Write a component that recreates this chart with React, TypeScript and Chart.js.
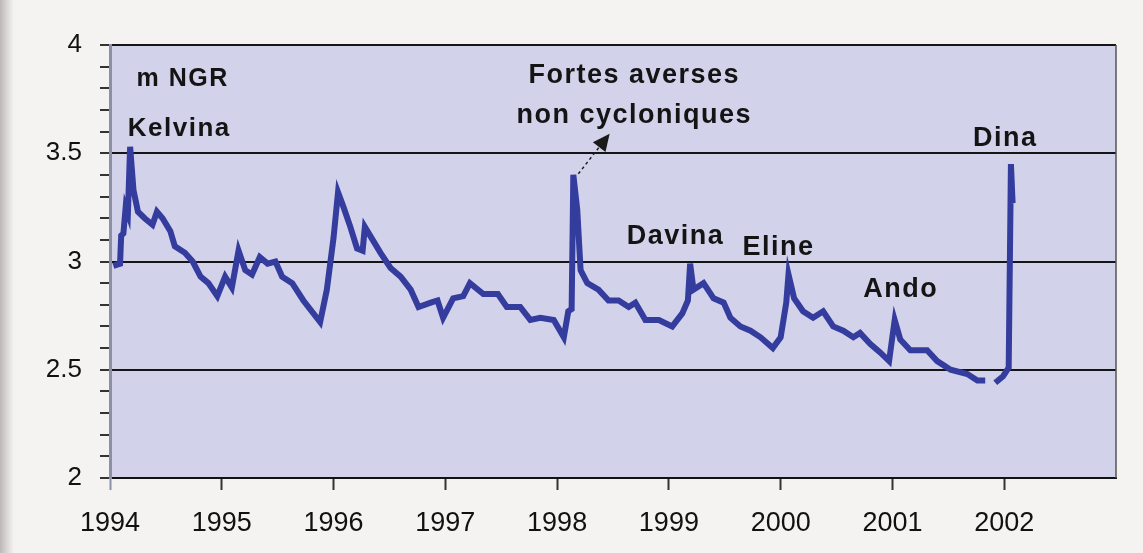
import { useEffect, useRef } from 'react';
import { Chart, registerables } from 'chart.js';

Chart.register(...registerables);

// Time (decimal years) and groundwater level (m NGR)
const dates = [
  1994.03, 1994.09, 1994.10, 1994.12, 1994.14, 1994.16, 1994.18, 1994.21, 1994.25, 1994.31,
  1994.38, 1994.42, 1994.47, 1994.54, 1994.58, 1994.67, 1994.74, 1994.81, 1994.88, 1994.96,
  1995.03, 1995.09, 1995.15, 1995.21, 1995.27, 1995.34, 1995.41, 1995.48, 1995.54, 1995.63,
  1995.73, 1995.88, 1995.94, 1996.00, 1996.04, 1996.09, 1996.15, 1996.21, 1996.26, 1996.28,
  1996.35, 1996.42, 1996.51, 1996.60, 1996.69, 1996.76, 1996.87, 1996.93, 1996.98, 1997.07,
  1997.16, 1997.22, 1997.34, 1997.47, 1997.55, 1997.67, 1997.76, 1997.85, 1997.97, 1998.06,
  1998.10, 1998.13, 1998.145, 1998.18, 1998.21, 1998.27, 1998.37, 1998.46, 1998.55, 1998.64,
  1998.70, 1998.79, 1998.91, 1999.03, 1999.12, 1999.17, 1999.19, 1999.22, 1999.31, 1999.40,
  1999.49, 1999.55, 1999.64, 1999.73, 1999.82, 1999.93, 2000.00, 2000.05, 2000.07, 2000.12,
  2000.20, 2000.29, 2000.38, 2000.47, 2000.56, 2000.65, 2000.71, 2000.80, 2000.89, 2000.97,
  2001.02, 2001.07, 2001.16, 2001.31, 2001.40, 2001.52, 2001.67, 2001.76, 2001.83, 2001.88,
  2001.92, 2001.99, 2002.04, 2002.06, 2002.075,
];

const levels = [
  2.98, 2.99, 3.12, 3.13, 3.25, 3.22, 3.53, 3.33, 3.23, 3.20,
  3.17, 3.23, 3.20, 3.14, 3.07, 3.04, 3.00, 2.93, 2.90, 2.84,
  2.93, 2.88, 3.05, 2.96, 2.94, 3.02, 2.99, 3.00, 2.93, 2.90,
  2.82, 2.72, 2.87, 3.11, 3.32, 3.25, 3.16, 3.06, 3.05, 3.16,
  3.10, 3.04, 2.97, 2.93, 2.87, 2.79, 2.81, 2.82, 2.74, 2.83,
  2.84, 2.90, 2.85, 2.85, 2.79, 2.79, 2.73, 2.74, 2.73, 2.65,
  2.77, 2.78, 3.40, 3.24, 2.96, 2.90, 2.87, 2.82, 2.82, 2.79,
  2.81, 2.73, 2.73, 2.70, 2.76, 2.82, 2.99, 2.87, 2.90, 2.83,
  2.81, 2.74, 2.70, 2.68, 2.65, 2.60, 2.65, 2.81, 2.94, 2.83,
  2.77, 2.74, 2.77, 2.70, 2.68, 2.65, 2.67, 2.62, 2.58, 2.54,
  2.73, 2.64, 2.59, 2.59, 2.54, 2.50, 2.48, 2.45, 2.45, null,
  2.44, 2.47, 2.51, 3.45, 3.27,
];

const xTickValues = [1994, 1995, 1996, 1997, 1998, 1999, 2000, 2001, 2002, 2003];
const xTickLabels = ['1994', '1995', '1996', '1997', '1998', '1999', '2000', '2001', '2002', ''];

const yTickValues = [
  2, 2.1, 2.2, 2.3, 2.4, 2.5, 2.6, 2.7, 2.8, 2.9, 3,
  3.1, 3.2, 3.3, 3.4, 3.5, 3.6, 3.7, 3.8, 3.9, 4,
];
const yTickLabels = [
  '2', '', '', '', '', '2.5', '', '', '', '', '3',
  '', '', '', '', '3.5', '', '', '', '', '4',
];

// Annotations (text, anchored in data coordinates)
const noteTexts = ['m NGR', 'Kelvina', 'Fortes averses', 'non cycloniques', 'Davina', 'Eline', 'Ando', 'Dina'];
const noteX = [1994.65, 1994.62, 1998.69, 1998.69, 1999.06, 1999.98, 2001.075, 2002.01];
const noteY = [3.81, 3.58, 3.825, 3.64, 3.083, 3.03, 2.834, 3.535];
const noteSizes = [25, 26, 27, 27, 27, 27, 27, 27];

const arrowFrom = [1998.19, 3.405];
const arrowTo = [1998.47, 3.59];

const LINE_COLOR = '#343c9e';
const PLOT_BG = '#d2d2ea';

const annotationPlugin = {
  id: 'annotations',
  beforeDraw(chart: any) {
    const { ctx, chartArea } = chart;
    ctx.save();
    ctx.fillStyle = PLOT_BG;
    ctx.fillRect(chartArea.left, chartArea.top, chartArea.right - chartArea.left, chartArea.bottom - chartArea.top);
    ctx.restore();
  },
  afterDraw(chart: any) {
    const { ctx, chartArea } = chart;
    const xs = chart.scales.x;
    const ys = chart.scales.y;
    ctx.save();
    // right border
    ctx.strokeStyle = '#555';
    ctx.lineWidth = 1.5;
    ctx.beginPath();
    ctx.moveTo(chartArea.right, chartArea.top);
    ctx.lineTo(chartArea.right, chartArea.bottom);
    ctx.stroke();

    // texts
    ctx.fillStyle = '#141414';
    ctx.textAlign = 'center';
    ctx.textBaseline = 'alphabetic';
    try { (ctx as any).letterSpacing = '1.5px'; } catch (e) { /* ignore */ }
    for (let i = 0; i < noteTexts.length; i++) {
      ctx.font = `bold ${noteSizes[i]}px "Liberation Sans", Arial, sans-serif`;
      ctx.fillText(noteTexts[i], xs.getPixelForValue(noteX[i]), ys.getPixelForValue(noteY[i]));
    }
    try { (ctx as any).letterSpacing = '0px'; } catch (e) { /* ignore */ }

    // arrow
    const x1 = xs.getPixelForValue(arrowFrom[0]);
    const y1 = ys.getPixelForValue(arrowFrom[1]);
    const x2 = xs.getPixelForValue(arrowTo[0]);
    const y2 = ys.getPixelForValue(arrowTo[1]);
    const ang = Math.atan2(y2 - y1, x2 - x1);
    const headLen = 17;
    const headW = 8;
    const bx = x2 - headLen * Math.cos(ang);
    const by = y2 - headLen * Math.sin(ang);
    ctx.strokeStyle = '#222';
    ctx.lineWidth = 1.5;
    ctx.setLineDash([3, 3]);
    ctx.beginPath();
    ctx.moveTo(x1, y1);
    ctx.lineTo(bx, by);
    ctx.stroke();
    ctx.setLineDash([]);
    ctx.fillStyle = '#1a1a1a';
    ctx.beginPath();
    ctx.moveTo(x2, y2);
    ctx.lineTo(bx + headW * Math.sin(ang), by - headW * Math.cos(ang));
    ctx.lineTo(bx - headW * Math.sin(ang), by + headW * Math.cos(ang));
    ctx.closePath();
    ctx.fill();
    ctx.restore();
  },
};

export default function App() {
  const canvasRef = useRef<HTMLCanvasElement | null>(null);

  useEffect(() => {
    if (!canvasRef.current) return;
    const points = dates.map((d, i) => ({ x: d, y: levels[i] }));
    const chart = new Chart(canvasRef.current, {
      type: 'line',
      data: {
        datasets: [
          {
            data: points as any,
            borderColor: LINE_COLOR,
            backgroundColor: LINE_COLOR,
            borderWidth: 6,
            pointRadius: 0,
            tension: 0,
            spanGaps: false,
          },
        ],
      },
      options: {
        animation: false,
        responsive: false,
        devicePixelRatio: 1,
        layout: { padding: { left: 0, right: 27, top: 45, bottom: 0 } },
        plugins: { legend: { display: false }, tooltip: { enabled: false } },
        scales: {
          x: {
            type: 'linear',
            min: 1994,
            max: 2003,
            afterBuildTicks: (s: any) => {
              s.ticks = xTickValues.map((v) => ({ value: v }));
            },
            afterFit: (s: any) => {
              s.height = 75;
            },
            grid: {
              drawOnChartArea: false,
              drawTicks: true,
              tickLength: 12,
              tickWidth: 2,
              tickColor: (c: any) => (c.index === xTickValues.length - 1 ? 'rgba(0,0,0,0)' : c.index === 0 ? '#8a90aa' : '#333'),
            },
            border: { display: true, color: '#111', width: 2 },
            ticks: {
              autoSkip: false,
              maxRotation: 0,
              padding: 17,
              color: '#111',
              font: { size: 27, family: '"Liberation Sans", Arial, sans-serif' },
              callback: (_v: any, i: number) => xTickLabels[i],
            },
          },
          y: {
            type: 'linear',
            min: 2,
            max: 4,
            afterBuildTicks: (s: any) => {
              s.ticks = yTickValues.map((v) => ({ value: v }));
            },
            afterFit: (s: any) => {
              s.width = 110;
            },
            grid: {
              drawOnChartArea: true,
              drawTicks: true,
              tickLength: 10,
              tickWidth: 2,
              tickColor: '#333',
              color: (c: any) => (c.index % 5 === 0 ? '#151515' : 'rgba(0,0,0,0)'),
              lineWidth: 2,
            },
            border: { display: true, color: '#8a90aa', width: 3 },
            ticks: {
              autoSkip: false,
              padding: 18,
              color: '#111',
              font: { size: 26, family: '"Liberation Sans", Arial, sans-serif' },
              callback: (_v: any, i: number) => yTickLabels[i],
            },
          },
        },
      },
      plugins: [annotationPlugin],
    });
    return () => chart.destroy();
  }, []);

  return (
    <div
      style={{
        position: 'fixed',
        left: 0,
        top: 0,
        width: 1143,
        height: 553,
        background: 'linear-gradient(to right, #bcb8b8 0px, #dad7d6 7px, #f5f3f1 14px)',
      }}
    >
      <canvas ref={canvasRef} width={1143} height={553} style={{ display: 'block', width: 1143, height: 553 }} />
    </div>
  );
}
